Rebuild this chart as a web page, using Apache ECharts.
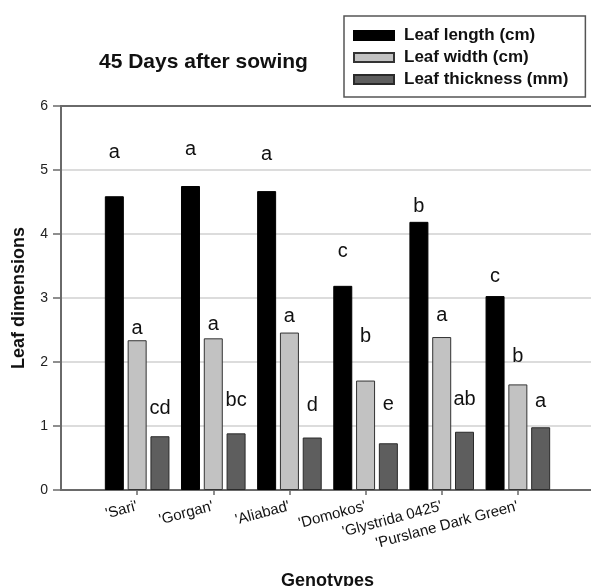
<!DOCTYPE html>
<html><head><meta charset="utf-8">
<script src="https://cdn.jsdelivr.net/npm/echarts@6/dist/echarts.min.js"></script>
<style>html,body{margin:0;padding:0;background:#fff}#c{width:591px;height:586px}</style>
</head><body><div id="c"></div>
<script>
// ---- data ----
const genotypes = ["'Sari'", "'Gorgan'", "'Aliabad'", "'Domokos'", "'Glystrida 0425'", "'Purslane Dark Green'"];
const leafLength = [4.59, 4.75, 4.67, 3.19, 4.19, 3.03];
const leafWidth = [2.34, 2.37, 2.46, 1.71, 2.39, 1.65];
const leafThickness = [0.84, 0.885, 0.82, 0.73, 0.91, 0.98];
const lettersLength = ['a', 'a', 'a', 'c', 'b', 'c'];
const lettersWidth = ['a', 'a', 'a', 'b', 'a', 'b'];
const lettersThickness = ['cd', 'bc', 'd', 'e', 'ab', 'a'];
// height (in axis units) at which each letter sits
const letterPosLength = [5.11, 5.16, 5.08, 3.57, 4.28, 3.18];
const letterPosWidth = [2.375, 2.43, 2.56, 2.24, 2.57, 1.93];
const letterPosThickness = [1.12, 1.25, 1.17, 1.18, 1.26, 1.23];
const yTicks = [0, 1, 2, 3, 4, 5, 6];

// ---- build ----
const FONT = 'Liberation Sans, Arial, sans-serif';
const cats = [''].concat(genotypes, ['']);
const pad = a => ['-'].concat(a, ['-']);
const gap = (pos, val) => pad(pos.map((p, i) => +(p - val[i]).toFixed(4)));
const padL = l => [''].concat(l, ['']);

const names = ['Leaf length (cm)', 'Leaf width (cm)', 'Leaf thickness (mm)'];
const values = [leafLength, leafWidth, leafThickness];
const letterPos = [letterPosLength, letterPosWidth, letterPosThickness];
const letters = [lettersLength, lettersWidth, lettersThickness];
const fills = ['#000000', '#c2c2c2', '#5e5e5e'];
const borders = ['#000000', '#333333', '#2a2a2a'];

const series = [];
for (let k = 0; k < 3; k++) {
  series.push({
    name: names[k], type: 'bar', stack: 's' + k, data: pad(values[k]),
    barWidth: 19, barGap: '20%',
    itemStyle: { color: fills[k], borderColor: borders[k], borderWidth: 1 },
    emphasis: { disabled: true }
  });
}
for (let k = 0; k < 3; k++) {
  const L = padL(letters[k]);
  series.push({
    name: 'lbl' + k, type: 'bar', stack: 's' + k, data: gap(letterPos[k], values[k]),
    barWidth: 19, barGap: '20%',
    itemStyle: { color: 'rgba(0,0,0,0)' },
    emphasis: { disabled: true },
    label: { show: true, position: 'top', distance: 0, fontSize: 20, color: '#111', fontFamily: FONT,
      formatter: p => L[p.dataIndex] }
  });
}

const lastIdx = cats.length - 1;
const chart = echarts.init(document.getElementById('c'), null, { renderer: 'canvas' });
chart.setOption({
  animation: false,
  backgroundColor: '#fff',
  title: { text: '45 Days after sowing', left: 99, top: 52, padding: 0,
    textStyle: { fontSize: 21, fontWeight: 'bold', color: '#111', fontFamily: FONT } },
  legend: {
    data: names, orient: 'vertical', left: 344, top: 16,
    padding: [11, 17, 9, 9], itemGap: 5, itemWidth: 40, itemHeight: 9, icon: 'rect',
    borderColor: '#555', borderWidth: 1.5,
    textStyle: { fontSize: 17, fontWeight: 'bold', color: '#111', fontFamily: FONT, padding: [0, 0, 0, 5] }
  },
  grid: { left: 61, right: -3, top: 106, bottom: 96, containLabel: false, outerBoundsMode: 'none' },
  xAxis: [{
    type: 'category', data: cats, boundaryGap: false,
    axisLine: { show: true, lineStyle: { color: '#6a6a6a', width: 2 } },
    axisTick: { show: true, length: 5, interval: (i) => i > 0 && i < lastIdx,
      lineStyle: { color: '#6a6a6a', width: 1.5 } },
    axisLabel: { interval: 0, rotate: 15, fontSize: 15, margin: 16, color: '#111', fontFamily: FONT },
    splitLine: { show: false },
    name: 'Genotypes', nameLocation: 'middle', nameGap: 82,
    nameTextStyle: { fontSize: 18, fontWeight: 'bold', color: '#111', fontFamily: FONT }
  }, {
    type: 'category', data: cats, boundaryGap: false, position: 'top',
    axisLine: { show: true, lineStyle: { color: '#6a6a6a', width: 2 } },
    axisTick: { show: false }, axisLabel: { show: false }, splitLine: { show: false }
  }],
  yAxis: {
    type: 'value', min: yTicks[0], max: yTicks[yTicks.length - 1], interval: 1,
    axisLine: { show: true, lineStyle: { color: '#6a6a6a', width: 2 } },
    axisTick: { show: true, length: 8, lineStyle: { color: '#6a6a6a', width: 1.5 } },
    axisLabel: { fontSize: 14, margin: 13, color: '#222', fontFamily: FONT },
    splitLine: { show: true, lineStyle: { color: '#d0d0d0', width: 1.5 } },
    name: 'Leaf dimensions', nameLocation: 'middle', nameGap: 33,
    nameTextStyle: { fontSize: 18, fontWeight: 'bold', color: '#111', fontFamily: FONT }
  },
  series: series
});
</script></body></html>
